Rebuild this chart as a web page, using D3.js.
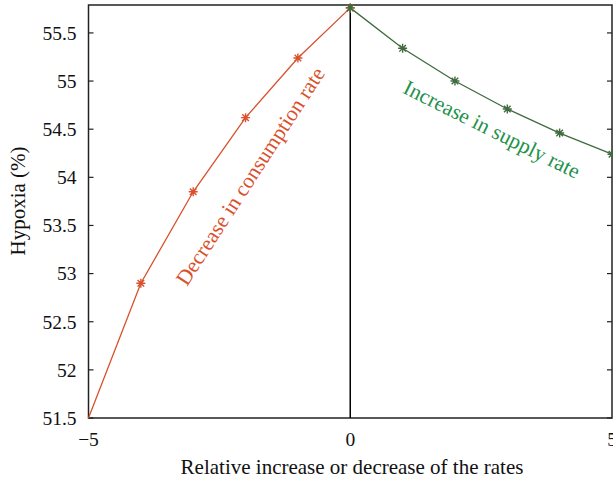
<!DOCTYPE html>
<html><head><meta charset="utf-8">
<script src="https://cdn.jsdelivr.net/npm/d3@7"></script>
<style>body{margin:0;background:#fff;} svg{display:block;}</style>
</head><body>
<svg id="c" width="613" height="484"></svg>
<script>
const decreaseX = [-5, -4, -3, -2, -1, 0];
const decreaseY = [51.5, 52.9, 53.85, 54.62, 55.24, 55.76];
const increaseX = [0, 1, 2, 3, 4, 5];
const increaseY = [55.76, 55.34, 55.0, 54.71, 54.46, 54.24];
const xTicks = [-5, 0, 5];
const yTicks = [51.5, 52, 52.5, 53, 53.5, 54, 54.5, 55, 55.5];

const svg = d3.select("#c");
const L = 88.5, R = 612, T = 5, B = 418;
const x = d3.scaleLinear().domain([-5, 5]).range([L, R]);
const y = d3.scaleLinear().domain([51.5, 55.79]).range([B, T]);
const font = "'Liberation Serif', 'DejaVu Serif', serif";
const red = "#d9502c", green = "#3f6b3f", greenText = "#23914a";

// frame
svg.append("rect").attr("x", L).attr("y", T).attr("width", R - L).attr("height", B - T)
  .attr("fill", "none").attr("stroke", "#222").attr("stroke-width", 1.5);

// y ticks (left + right, inward)
yTicks.forEach(v => {
  svg.append("line").attr("x1", L).attr("x2", L + 5).attr("y1", y(v)).attr("y2", y(v)).attr("stroke", "#222").attr("stroke-width", 1.2);
  svg.append("line").attr("x1", R).attr("x2", R - 5).attr("y1", y(v)).attr("y2", y(v)).attr("stroke", "#222").attr("stroke-width", 1.2);
  svg.append("text").attr("x", L - 12).attr("y", y(v)).attr("dy", "0.35em")
    .attr("text-anchor", "end").attr("font-family", font).attr("font-size", 19.5).attr("fill", "#111")
    .text(d3.format("")(v));
});
xTicks.forEach(v => {
  svg.append("text").attr("x", x(v)).attr("y", 446).attr("text-anchor", "middle")
    .attr("font-family", font).attr("font-size", 19.5).attr("fill", "#111")
    .text(v < 0 ? "\u2212" + Math.abs(v) : v);
});

// vertical line at 0
svg.append("line").attr("x1", x(0)).attr("x2", x(0)).attr("y1", T).attr("y2", B)
  .attr("stroke", "#000").attr("stroke-width", 1.5);

const line = d3.line().x(d => x(d[0])).y(d => y(d[1]));
const dec = decreaseX.map((v, i) => [v, decreaseY[i]]);
const inc = increaseX.map((v, i) => [v, increaseY[i]]);

svg.append("path").datum(dec).attr("d", line).attr("fill", "none").attr("stroke", red).attr("stroke-width", 1.3);
svg.append("path").datum(inc).attr("d", line).attr("fill", "none").attr("stroke", green).attr("stroke-width", 1.3);

function star(g, cx, cy, col) {
  const s = 4.5, d = 3.3;
  const p = `M${cx - s},${cy}L${cx + s},${cy}M${cx},${cy - s}L${cx},${cy + s}M${cx - d},${cy - d}L${cx + d},${cy + d}M${cx - d},${cy + d}L${cx + d},${cy - d}`;
  g.append("path").attr("d", p).attr("stroke", col).attr("stroke-width", 1.4).attr("fill", "none");
}
dec.slice(1).forEach(d => star(svg, x(d[0]), y(d[1]), red));
inc.forEach(d => star(svg, x(d[0]), y(d[1]), green));

// annotations
svg.append("text").attr("transform", "translate(250,176) rotate(-57)")
  .attr("text-anchor", "middle").attr("dy", "0.35em").attr("font-family", font).attr("font-size", 21.5)
  .attr("fill", red).text("Decrease in consumption rate");
svg.append("text").attr("transform", "translate(492,129) rotate(26.5)")
  .attr("text-anchor", "middle").attr("dy", "0.35em").attr("font-family", font).attr("font-size", 21.5)
  .attr("fill", greenText).text("Increase in supply rate");

// axis labels
svg.append("text").attr("x", 352).attr("y", 474).attr("text-anchor", "middle")
  .attr("font-family", font).attr("font-size", 21).attr("fill", "#111")
  .text("Relative increase or decrease of the rates");
svg.append("text").attr("transform", "translate(25,201) rotate(-90)").attr("text-anchor", "middle")
  .attr("font-family", font).attr("font-size", 21).attr("fill", "#111").text("Hypoxia (%)");
</script>
</body></html>
